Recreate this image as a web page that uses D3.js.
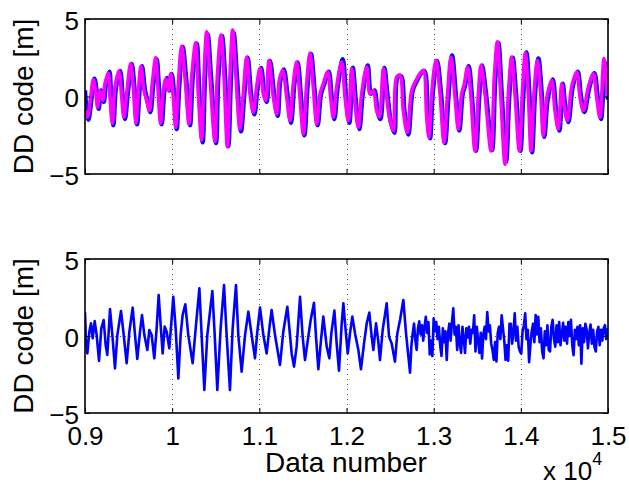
<!DOCTYPE html>
<html>
<head>
<meta charset="utf-8">
<script src="https://cdn.jsdelivr.net/npm/d3@7"></script>
<style>
  html, body { margin: 0; padding: 0; background: #fff; }
  svg text { font-family: "Liberation Sans", Arial, Helvetica, sans-serif; fill: #000; }
</style>
</head>
<body>
<svg id="chart" width="629" height="490"></svg>
<script>
// ---------------- data ----------------
const xDomain = [9000, 15000];
const yDomain = [-5, 5];
const xTickValues = [9000, 10000, 11000, 12000, 13000, 14000, 15000];
const xTickLabels = ["0.9", "1", "1.1", "1.2", "1.3", "1.4", "1.5"];
const yTickValues = [-5, 0, 5];
const yTickLabels = ["\u22125", "0", "5"];
const yLabel = "DD code [m]";
const xLabel = "Data number";
const xExponent = "4";

// top panel, magenta series: [data number, value]
const topMagenta = [
[9000,-0.91],[9027,-1.34],[9065,-0.04],[9096,1.08],[9126,0.17],[9145,-0.69],[9172,0.39],[9203,-0.26],[9229,0.82],[9268,1.52],
[9287,-0.04],[9314,-1.73],[9344,0.61],[9390,1.65],[9421,-0.04],[9447,-1.34],[9478,0.17],[9524,2.12],[9554,0.61],[9585,-1.73],
[9616,0.61],[9642,1.95],[9677,0.39],[9707,-0.26],[9738,-0.91],[9772,0.82],[9811,2.51],[9834,0.82],[9868,-1.73],[9899,0.39],
[9929,1.15],[9956,0.39],[9983,1.47],[10013,-0.04],[10040,-1.99],[10071,0.82],[10109,3.25],[10147,1.26],[10193,-1.77],[10224,1.26],
[10270,3.46],[10300,0.17],[10338,-2.81],[10365,1.26],[10396,4.18],[10434,1.26],[10491,-2.9],[10518,1.26],[10560,3.96],[10595,1.26],
[10633,-3.25],[10663,1.26],[10694,4.29],[10732,1.26],[10778,-2.1],[10816,0.17],[10855,2.55],[10893,0.17],[10931,-1.02],[10969,0.61],
[11008,1.8],[11046,0.17],[11073,-0.26],[11111,2.34],[11161,-0.04],[11199,-1.13],[11229,1.04],[11268,1.69],[11314,-0.04],[11352,-1.56],
[11390,0.82],[11428,2.23],[11466,-0.04],[11505,-2.42],[11543,0.82],[11581,2.81],[11619,0.61],[11658,-1.77],[11696,0.17],[11734,0.82],
[11784,1.58],[11818,-0.04],[11849,-1.34],[11887,0.61],[11945,2.23],[11983,-0.04],[12021,-1.56],[12060,1.8],[12098,-0.48],[12136,-1.99],
[12174,0.17],[12232,1.9],[12270,0.17],[12308,0.39],[12346,-0.91],[12377,-1.34],[12423,1.8],[12453,0.39],[12499,-1.56],[12538,-2.21],
[12576,1.26],[12614,1.36],[12652,-0.91],[12698,-2.32],[12748,0.39],[12798,1.04],[12843,1.47],[12882,1.69],[12920,-1.34],[12947,-2.64],
[12977,0.17],[13027,2.34],[13073,0.17],[13119,-2.97],[13157,-0.04],[13199,2.55],[13245,-0.04],[13283,-2.1],[13321,0.17],[13348,0.71],
[13390,1.9],[13425,0.17],[13474,-3.51],[13513,0.17],[13543,2.01],[13589,0.17],[13658,-3.51],[13696,1.26],[13731,3.53],[13769,0.17],
[13819,-4.37],[13857,0.17],[13895,2.55],[13933,0.17],[13983,-3.51],[14017,0.17],[14052,2.81],[14086,0.17],[14117,-3.51],[14151,0.17],
[14190,2.34],[14228,0.17],[14258,-2.53],[14297,-0.15],[14354,1.04],[14392,-0.91],[14430,-2.1],[14469,0.82],[14495,-0.48],[14534,-1.56],
[14583,0.61],[14641,1.58],[14679,-0.04],[14717,-0.91],[14775,0.61],[14832,1.47],[14870,-0.04],[14908,-1.34],[14954,2.45],[14993,0.17],
[15000,0.1]
];

// top panel, blue series: [data number, value]
const topBlue = [
[9000,0.4],[9012,-0.5],[9039,-1.5],[9077,-0.04],[9108,1.15],[9138,0.17],[9157,-0.8],[9184,0.39],[9215,-0.35],[9241,0.82],[9280,1.6],
[9299,-0.04],[9326,-1.85],[9356,0.61],[9402,1.65],[9433,-0.04],[9459,-1.45],[9490,0.17],[9536,2.1],[9566,0.61],[9597,-1.8],
[9628,0.61],[9654,1.95],[9689,0.39],[9719,-0.3],[9750,-1.0],[9784,0.82],[9823,2.4],[9846,0.82],[9880,-1.8],[9911,0.39],
[9941,1.2],[9968,0.39],[9995,1.45],[10025,-0.04],[10052,-2.1],[10083,0.82],[10121,3.2],[10159,1.26],[10205,-1.85],[10236,1.26],
[10282,3.4],[10312,0.17],[10350,-2.95],[10377,1.26],[10408,4.0],[10446,1.26],[10503,-3.0],[10530,1.26],[10572,3.9],[10607,1.26],
[10645,-3.2],[10675,1.26],[10706,4.1],[10744,1.26],[10790,-2.25],[10828,0.17],[10867,2.5],[10905,0.17],[10943,-1.15],[10981,0.61],
[11020,1.85],[11058,0.17],[11085,-0.35],[11123,2.3],[11173,-0.04],[11211,-1.25],[11241,1.04],[11280,1.75],[11326,-0.04],[11364,-1.7],
[11402,0.82],[11440,2.2],[11478,-0.04],[11517,-2.5],[11555,0.82],[11593,2.75],[11631,0.61],[11670,-1.85],[11708,0.17],[11746,0.82],
[11796,1.6],[11830,-0.04],[11861,-1.45],[11899,0.61],[11957,2.4],[11995,-0.04],[12033,-1.7],[12072,1.85],[12110,-0.48],[12148,-2.1],
[12186,0.17],[12244,2.0],[12282,0.17],[12320,0.39],[12358,-1.0],[12389,-1.45],[12435,1.85],[12465,0.39],[12511,-1.7],[12550,-2.35],
[12588,1.26],[12626,1.3],[12664,-0.91],[12710,-2.45],[12760,0.39],[12810,1.04],[12855,1.5],[12894,1.65],[12932,-1.4],[12959,-2.7],
[12989,0.17],[13039,2.3],[13085,0.17],[13131,-3.0],[13169,-0.04],[13211,2.65],[13257,-0.04],[13295,-2.2],[13333,0.17],[13360,0.71],
[13402,1.95],[13437,0.17],[13486,-3.5],[13525,0.17],[13555,2.0],[13601,0.17],[13670,-3.45],[13708,1.26],[13743,3.45],[13781,0.17],
[13831,-4.2],[13869,0.17],[13907,2.5],[13945,0.17],[13995,-3.5],[14029,0.17],[14064,2.85],[14098,0.17],[14129,-3.6],[14163,0.17],
[14202,2.45],[14240,0.17],[14270,-2.6],[14309,-0.15],[14366,1.1],[14404,-0.91],[14442,-2.2],[14481,0.82],[14507,-0.48],[14546,-1.65],
[14595,0.61],[14653,1.6],[14691,-0.04],[14729,-1.0],[14787,0.61],[14844,1.5],[14882,-0.04],[14920,-1.45],[14966,2.3],[15000,-0.2]
];

// bottom panel, low-frequency part: [data number, value]
const bottomPart = [
[9000,1.54],[9011,-0.37],[9027,-1.13],[9050,0.28],[9069,0.82],[9088,-0.15],[9111,0.97],[9134,0.06],[9161,-1.62],[9187,0.5],
[9214,1.04],[9237,-0.58],[9256,-1.23],[9287,1.75],[9314,0.06],[9344,-2.1],[9371,0.06],[9413,1.62],[9440,0.28],[9478,-1.77],
[9509,0.28],[9547,1.84],[9574,0.06],[9600,-1.49],[9631,0.28],[9654,1.36],[9681,0.06],[9715,-0.91],[9738,0.39],[9765,0.06],
[9795,-1.45],[9822,0.5],[9845,2.66],[9868,0.71],[9891,-1.13],[9914,0.61],[9937,0.28],[9967,-0.8],[9994,1.15],[10013,2.55],
[10040,0.5],[10071,-2.75],[10097,0.06],[10120,1.36],[10151,2.06],[10185,0.06],[10235,-1.77],[10270,0.5],[10312,3.1],[10338,0.06],
[10369,-3.51],[10403,0.06],[10461,2.92],[10488,0.06],[10518,-3.51],[10556,0.5],[10595,3.31],[10625,0.06],[10663,-3.51],[10694,0.5],
[10732,3.31],[10759,0.06],[10797,-2.32],[10836,0.06],[10874,1.58],[10912,0.06],[10950,-1.45],[10977,0.28],[11008,1.84],[11046,0.06],
[11084,-1.13],[11115,0.5],[11141,1.69],[11180,0.06],[11237,-1.88],[11275,0.28],[11321,1.9],[11352,0.06],[11371,-1.13],[11398,-1.99],
[11428,-0.69],[11467,2.55],[11497,-0.04],[11524,-1.56],[11551,-0.48],[11589,1.04],[11627,2.16],[11650,-0.04],[11677,-2.16],[11704,-0.48],
[11734,1.26],[11773,-0.69],[11803,-1.45],[11826,0.17],[11861,1.65],[11887,-0.48],[11914,-2.25],[11945,0.82],[11964,2.12],[11983,0.82],
[12014,-1.13],[12040,0.17],[12067,1.26],[12098,0.17],[12136,-0.91],[12166,-2.16],[12201,-0.48],[12232,0.82],[12262,1.52],[12289,-0.04],
[12308,-0.91],[12339,0.82],[12365,-0.37],[12384,-1.56],[12415,0.39],[12461,2.12],[12488,-0.04],[12518,-0.48],[12556,-1.67],[12583,0.17],
[12614,1.04],[12652,2.34],[12683,0.17],[12729,-2.38],[12745,-0.6]
];

// bottom panel, noisy part: values every 15 data numbers from 12760
const bottomNoiseStart = 12760;
const bottomNoiseStep = 15;
const bottomNoise = [
0.2,0.8,-0.3,-0.9,0.5,0.95,0.1,0.7,-0.3,0.6,
1.25,0.2,0.9,-1.2,-0.3,-1.3,1.15,0.3,0.9,-0.2,
0.6,-0.6,-1.3,0.5,-0.4,0.3,-1.55,0.2,0.8,-0.3,
0.9,1.8,0.1,0.6,-0.9,0.7,-0.5,-1.1,0.6,-0.2,
-1.1,0.5,-0.1,0.6,-0.5,0.4,0.2,1.35,-1.0,0.6,
-0.3,-1.1,0.2,-1.45,0.1,0.6,-0.2,1.55,0.3,0.7,
-0.5,-0.9,-1.55,-0.4,-1.65,0.2,0.6,-0.2,1.35,0.5,
-0.3,-1.55,-0.6,-1.6,0.8,
0.8,-0.5,0.2,1.47,-0.3,0.6,-0.7,-1.0,-1.15,0.3,
0.7,1.47,-0.2,0.4,-1.7,-0.6,0.3,0.8,-0.4,1.36,
0.1,1.25,-0.4,0.5,-1.0,-1.45,0.3,-0.6,0.7,-0.9,
-1.0,0.6,1.05,-0.2,-0.7,0.7,-0.4,0.9,-0.6,0.1,
0.85,-0.3,0.6,-0.5,0.9,0.0,1.05,-0.6,-1.25,0.4,
-0.2,0.6,-0.6,0.7,-1.8,0.5,-0.4,0.8,0.4,-0.8,
0.2,0.75,-0.5,0.4,-0.7,-1.0,0.3,0.6,-0.6,0.4,
-0.3,0.5,0.7,-0.2,0.5
];

// ---------------- drawing ----------------
const svg = d3.select("#chart");
const left = 85, right = 608;
const smooth = d3.curveCatmullRom.alpha(0.5);
const panels = [
  { top: 19, bottom: 174, xlabels: false,
    series: [ {data: topBlue, color: "#0000ff", w: 4.4, curve: smooth},
              {data: topMagenta, color: "#ff00ff", w: 3.6, curve: smooth} ] },
  { top: 259, bottom: 413, xlabels: true,
    series: [ {data: bottomPart.concat(bottomNoise.map((v, i) => [bottomNoiseStart + i * bottomNoiseStep, v])),
               color: "#0000ff", w: 2.6, curve: d3.curveLinear} ] }
];

const x = d3.scaleLinear().domain(xDomain).range([left, right]);

panels.forEach((p, pi) => {
  const y = d3.scaleLinear().domain(yDomain).range([p.bottom, p.top]);
  const g = svg.append("g");

  const clipId = "clip" + pi;
  svg.append("clipPath").attr("id", clipId).append("rect")
    .attr("x", left).attr("y", p.top).attr("width", right - left).attr("height", p.bottom - p.top);

  // grid (dotted)
  const grid = g.append("g").attr("stroke", "#555").attr("stroke-width", 1).attr("stroke-dasharray", "1,4");
  grid.selectAll("line.v").data(xTickValues.slice(1, -1)).enter().append("line")
    .attr("x1", d => Math.round(x(d)) + 0.5).attr("x2", d => Math.round(x(d)) + 0.5)
    .attr("y1", p.top).attr("y2", p.bottom);
  grid.selectAll("line.h").data(yTickValues.slice(1, -1)).enter().append("line")
    .attr("x1", left).attr("x2", right)
    .attr("y1", d => Math.round(y(d)) + 0.5).attr("y2", d => Math.round(y(d)) + 0.5);

  // data lines
  const dg = g.append("g").attr("clip-path", `url(#${clipId})`);
  p.series.forEach(s => {
    const line = d3.line().x(d => x(d[0])).y(d => y(d[1])).curve(s.curve);
    dg.append("path").datum(s.data).attr("d", line)
      .attr("fill", "none").attr("stroke", s.color).attr("stroke-width", s.w)
      .attr("stroke-linejoin", "round");
  });

  // axes with inward ticks
  const fmtX = d => p.xlabels ? xTickLabels[xTickValues.indexOf(d)] : "";
  const ax = g.append("g").attr("transform", `translate(0,${p.bottom})`)
    .call(d3.axisBottom(x).tickValues(xTickValues).tickSize(-5).tickSizeOuter(0).tickFormat(fmtX));
  ax.selectAll("text").attr("y", 32).attr("dy", 0).style("font-size", "26px");
  g.append("g").attr("transform", `translate(0,${p.top})`)
    .call(d3.axisTop(x).tickValues(xTickValues).tickSize(-5).tickSizeOuter(0).tickFormat(""));
  const ay = g.append("g").attr("transform", `translate(${left},0)`)
    .call(d3.axisLeft(y).tickValues(yTickValues).tickSize(-5).tickSizeOuter(0).tickPadding(6)
      .tickFormat(d => yTickLabels[yTickValues.indexOf(d)]));
  ay.selectAll("text").attr("dy", "0.4em").style("font-size", "26px");
  g.append("g").attr("transform", `translate(${right},0)`)
    .call(d3.axisRight(y).tickValues(yTickValues).tickSize(-5).tickSizeOuter(0).tickFormat(""));

  g.selectAll(".domain").remove();
  g.selectAll(".tick line").attr("stroke", "#000").attr("stroke-width", 1);

  g.append("rect").attr("x", left).attr("y", p.top).attr("width", right - left).attr("height", p.bottom - p.top)
    .attr("fill", "none").attr("stroke", "#000").attr("stroke-width", 1.6);

  svg.append("text").attr("transform", `translate(33,${(p.top + p.bottom) / 2}) rotate(-90)`)
    .attr("text-anchor", "middle").style("font-size", "28px").text(yLabel);
});

svg.append("text").attr("x", 346).attr("y", 472).attr("text-anchor", "middle").style("font-size", "28px").text(xLabel);
const ex = svg.append("text").attr("x", 543).attr("y", 480).style("font-size", "26px");
ex.append("tspan").text("x 10");
ex.append("tspan").attr("dy", -15).style("font-size", "18px").text(xExponent);
</script>
</body>
</html>
